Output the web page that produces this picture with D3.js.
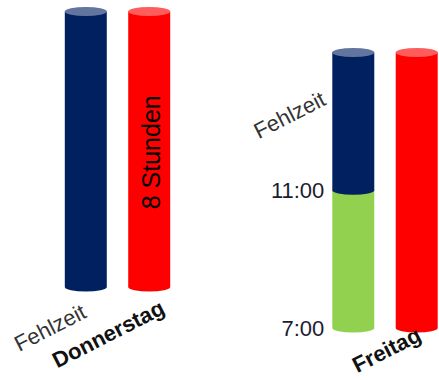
<!DOCTYPE html>
<html>
<head>
<meta charset="utf-8">
<script src="https://cdn.jsdelivr.net/npm/d3@7"></script>
<style>
  html, body { margin: 0; padding: 0; background: #fff; }
  svg { display: block; font-family: "Liberation Sans", Arial, sans-serif; }
</style>
</head>
<body>
<svg id="chart" width="439" height="380"></svg>
<script>
// Arbeitstage und Zeiten (Stunden)
const days = ["Donnerstag", "Freitag"];
const shiftStart = [7, 7];        // Arbeitsbeginn
const absentFrom = [7, 11];       // Beginn der Fehlzeit
const shiftEnd = [15, 15];        // Arbeitsende
const targetHours = [8, 8];       // Sollzeit
const targetLabels = ["8 Stunden", ""];
const timeTicks = [[], [7, 11]];  // beschriftete Uhrzeiten je Tag
const series = ["Fehlzeit", "Soll"];

const colors = {
  present: "#92D050",
  absent: "#002060",
  absentCap: "#62759F",
  target: "#FF0000",
  targetCap: "#FF5C5C"
};

const svg = d3.select("#chart");

// Layout
const baselines = [287, 328];
const barSpan = 275.5;
const ry = 4.5;

const xDay = d3.scalePoint().domain(days).range([117.5, 385]);
const xSeries = d3.scaleBand().domain(series).range([-52.7, 52.7]).paddingInner(0.338);
const bw = xSeries.bandwidth();

const yScales = days.map((d, i) =>
  d3.scaleLinear()
    .domain([shiftStart[i], shiftStart[i] + targetHours[i]])
    .range([baselines[i], baselines[i] - barSpan])
);

function body(x, yTop, yBot) {
  return `M${x},${yTop} V${yBot} A${bw / 2},${ry} 0 0 0 ${x + bw},${yBot} V${yTop} Z`;
}

function cylinder(g, x, yTop, yBot, fill, capFill) {
  g.append("path").attr("d", body(x, yTop, yBot)).attr("fill", fill);
  if (capFill) {
    g.append("ellipse")
      .attr("cx", x + bw / 2).attr("cy", yTop)
      .attr("rx", bw / 2).attr("ry", ry)
      .attr("fill", capFill);
  }
}

days.forEach((day, i) => {
  const y = yScales[i];
  const g = svg.append("g").attr("transform", `translate(${xDay(day)},0)`);
  const xa = xSeries("Fehlzeit");
  const xs = xSeries("Soll");

  // Anwesenheit (falls vorhanden)
  if (absentFrom[i] > shiftStart[i]) {
    cylinder(g, xa, y(absentFrom[i]), y(shiftStart[i]), colors.present, null);
  }
  // Fehlzeit
  cylinder(g, xa, y(shiftEnd[i]), y(absentFrom[i]), colors.absent, colors.absentCap);
  // Sollzeit
  cylinder(g, xs, y(shiftStart[i] + targetHours[i]), y(shiftStart[i]), colors.target, colors.targetCap);

  // Sollzeit-Beschriftung im Balken
  if (targetLabels[i]) {
    const ym = (y(shiftStart[i]) + y(shiftStart[i] + targetHours[i])) / 2 + 3;
    g.append("text")
      .attr("transform", `translate(${xs + bw / 2 + 11},${ym}) rotate(-90)`)
      .attr("text-anchor", "middle")
      .attr("font-size", 25)
      .attr("fill", "#000")
      .text(targetLabels[i]);
  }

  // Uhrzeiten
  g.selectAll("text.tick")
    .data(timeTicks[i])
    .join("text")
    .attr("class", "tick")
    .attr("x", xa - 8)
    .attr("y", h => y(h) + 8)
    .attr("text-anchor", "end")
    .attr("font-size", 22)
    .attr("fill", "#1c1c30")
    .text(h => h + ":00");
});

// Beschriftungen (schräg)
function slanted(x, y, text, bold, fill) {
  svg.append("text")
    .attr("transform", `translate(${x},${y}) rotate(-27)`)
    .attr("text-anchor", "end")
    .attr("font-size", 22)
    .attr("font-weight", bold ? "bold" : "normal")
    .attr("fill", fill)
    .text(text);
}

// Donnerstag
{
  const cx = xDay("Donnerstag");
  slanted(cx + xSeries("Fehlzeit") + bw / 2 + 2, baselines[0] + 30, "Fehlzeit", false, "#333");
  slanted(cx + xSeries("Soll") + bw / 2 + 17, baselines[0] + 26, "Donnerstag", true, "#111");
}
// Freitag
{
  const cx = xDay("Freitag");
  const y = yScales[1];
  slanted(cx + xSeries("Fehlzeit") - 5, y(13.5), "Fehlzeit", false, "#333");
  slanted(cx + xSeries("Soll") + bw / 2 + 6, baselines[1] + 12, "Freitag", true, "#111");
}
</script>
</body>
</html>
